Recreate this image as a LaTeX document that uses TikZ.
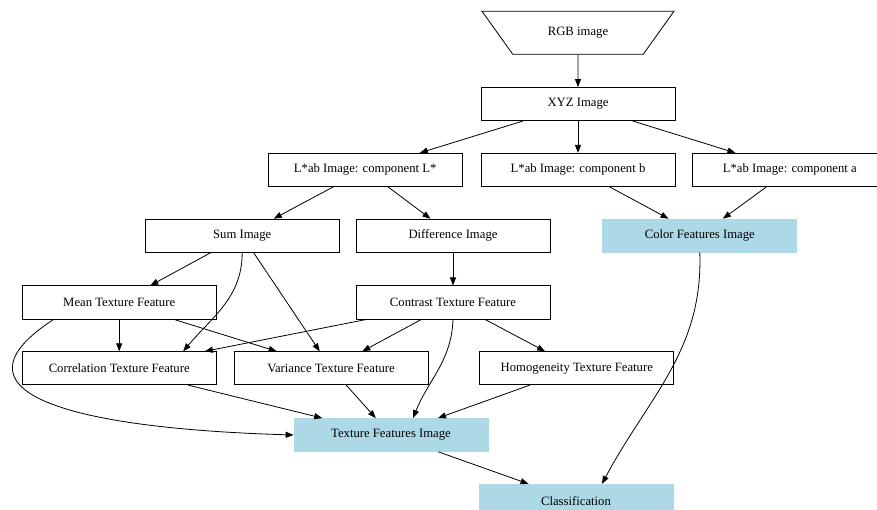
\documentclass[tikz,border=0pt]{standalone}
\usepackage{fontspec}
\setmainfont{Liberation Serif}
\usetikzlibrary{arrows.meta,positioning,shapes.geometric}
\definecolor{cfeat}{RGB}{173,216,230}

\begin{document}
\begin{tikzpicture}[
  x=1pt, y=-1pt,
  font=\fontsize{12.7}{15}\selectfont,
  box/.style={draw, line width=0.8pt, minimum height=33pt, minimum width=194pt, inner sep=2pt, align=center},
  feat/.style={box, fill=cfeat, draw=cfeat},
  src/.style={trapezium, trapezium stretches=true, shape border rotate=180, trapezium left angle=48.5, trapezium right angle=48.5, draw, line width=0.8pt, minimum width=193pt, minimum height=43pt},
  ar/.style={-{Triangle[length=8pt,width=6pt]}, line width=0.8pt},
]
\useasboundingbox (0,0) rectangle (877,510);

% ---- colour space conversion ----
\node[box] (xyz) at (578,104) {XYZ Image};
\node[src, above=32.5pt of xyz] (rgb) {RGB image};
\node[box, below=32pt of xyz] (compb) {L*ab Image: component b};
\node[box, left=18pt of compb] (compl) {L*ab Image: component L*};
\node[box, right=17pt of compb] (compa) {L*ab Image: component a};
\draw[ar] (rgb) -- (xyz);
\draw[ar] (xyz) -- (compl);
\draw[ar] (xyz) -- (compb);
\draw[ar] (xyz) -- (compa);

% ---- sum / difference and colour features ----
\node[box, below=32pt of compl, xshift=-123pt] (sum) {Sum Image};
\node[box, right=16pt of sum] (diff) {Difference Image};
\node[feat, right=52pt of diff] (color) {Color Features Image};
\draw[ar] (compl) -- (sum);
\draw[ar] (compl) -- (diff);
\draw[ar] (compb) -- (color);
\draw[ar] (compa) -- (color);

% ---- texture features ----
\node[box, below=33pt of sum, xshift=-123pt] (mean) {Mean Texture Feature};
\node[box, below=33pt of diff] (contrast) {Contrast Texture Feature};
\node[box, below=32pt of mean] (corr) {Correlation Texture Feature};
\node[box, right=17pt of corr] (var) {Variance Texture Feature};
\node[box, right=51pt of var] (homog) {Homogeneity Texture Feature};
\draw[ar] (sum) -- (mean);
\draw[ar] (sum.south) to[out=-90, in=50] ([xshift=64pt]corr.north);
\draw[ar] (sum) -- (var);
\draw[ar] (diff) -- (contrast);
\draw[ar] (mean) -- (corr);
\draw[ar] (mean) -- (var);
\draw[ar] (contrast) -- (corr);
\draw[ar] (contrast) -- (var);
\draw[ar] (contrast) -- (homog);

% ---- merge and classify ----
\node[feat, below=33pt of var, xshift=60pt] (texture) {Texture Features Image};
\node[feat, below=32pt of texture, xshift=185pt] (class) {Classification};
\draw[ar] ([xshift=32pt]mean.south west) .. controls (-55,390) and (60,428) .. (texture.west);
\draw[ar] (contrast.south) to[out=-92, in=68] ([xshift=22pt]texture.north);
\draw[ar] (corr) -- (texture);
\draw[ar] (var) -- (texture);
\draw[ar] (homog) -- (texture);
\draw[ar] (texture) -- (class);
\draw[ar] (color.south) to[out=-88, in=62] ([xshift=26pt]class.north);
\end{tikzpicture}
\end{document}
